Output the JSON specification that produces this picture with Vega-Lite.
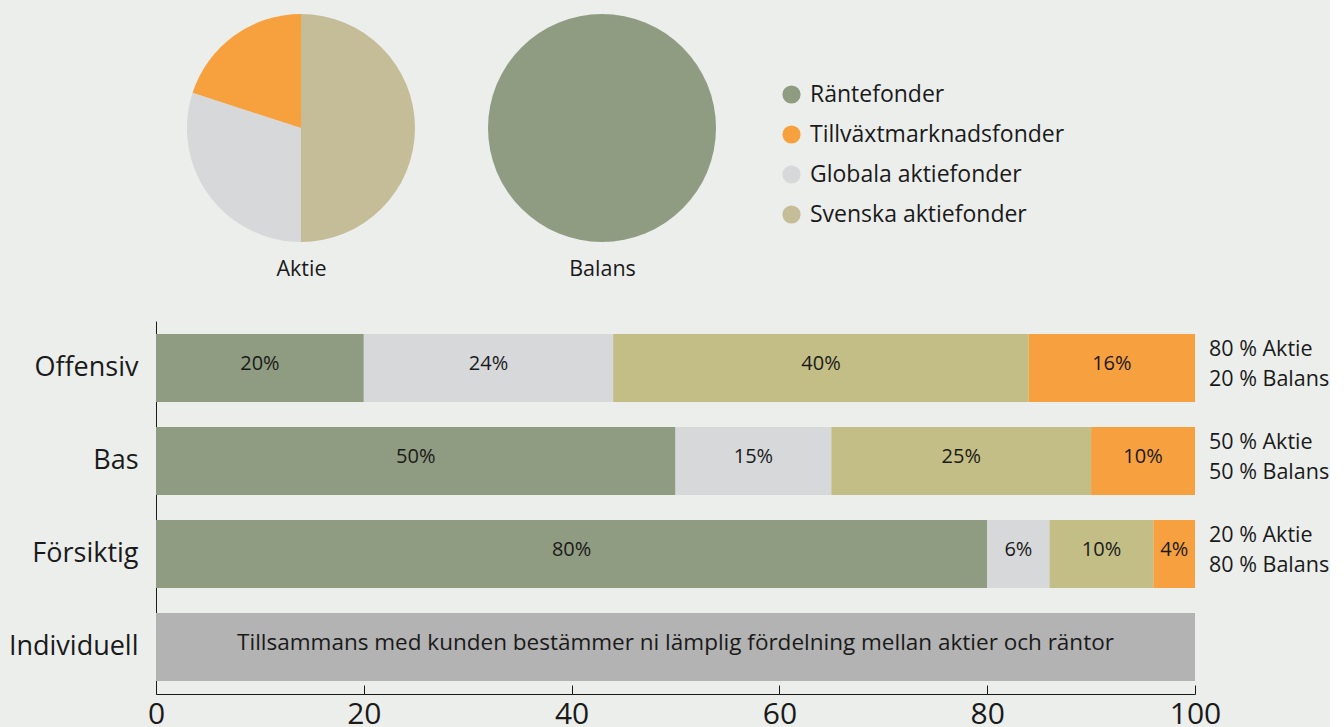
{
  "$schema": "https://vega.github.io/schema/vega-lite/v6.json",
  "background": "#eceeec",
  "padding": {"left": 8, "top": 13, "right": 0, "bottom": 0},
  "config": {
    "view": {"stroke": null},
    "font": "Open Sans",
    "concat": {"spacing": 41},
    "axis": {"labelColor": "#1a1a1a", "domainColor": "#1a1a1a", "tickColor": "#1a1a1a", "grid": false}
  },
  "datasets": {
    "pies": [
      {"pie": "Aktie", "fund": "Svenska aktiefonder", "share": 50, "ord": 1},
      {"pie": "Aktie", "fund": "Globala aktiefonder", "share": 30, "ord": 2},
      {"pie": "Aktie", "fund": "Tillväxtmarknadsfonder", "share": 20, "ord": 3},
      {"pie": "Balans", "fund": "Räntefonder", "share": 100, "ord": 1}
    ],
    "bars": [
      {"profil": "Offensiv", "fund": "Räntefonder", "value": 20, "ord": 1, "label": "20%"},
      {"profil": "Offensiv", "fund": "Globala aktiefonder", "value": 24, "ord": 2, "label": "24%"},
      {"profil": "Offensiv", "fund": "Svenska aktiefonder", "value": 40, "ord": 3, "label": "40%"},
      {"profil": "Offensiv", "fund": "Tillväxtmarknadsfonder", "value": 16, "ord": 4, "label": "16%"},
      {"profil": "Bas", "fund": "Räntefonder", "value": 50, "ord": 1, "label": "50%"},
      {"profil": "Bas", "fund": "Globala aktiefonder", "value": 15, "ord": 2, "label": "15%"},
      {"profil": "Bas", "fund": "Svenska aktiefonder", "value": 25, "ord": 3, "label": "25%"},
      {"profil": "Bas", "fund": "Tillväxtmarknadsfonder", "value": 10, "ord": 4, "label": "10%"},
      {"profil": "Försiktig", "fund": "Räntefonder", "value": 80, "ord": 1, "label": "80%"},
      {"profil": "Försiktig", "fund": "Globala aktiefonder", "value": 6, "ord": 2, "label": "6%"},
      {"profil": "Försiktig", "fund": "Svenska aktiefonder", "value": 10, "ord": 3, "label": "10%"},
      {"profil": "Försiktig", "fund": "Tillväxtmarknadsfonder", "value": 4, "ord": 4, "label": "4%"},
      {"profil": "Individuell", "fund": "Individuell", "value": 100, "ord": 1, "label": "Tillsammans med kunden bestämmer ni lämplig fördelning mellan aktier och räntor"}
    ],
    "notes": [
      {"profil": "Offensiv", "note": "80 % Aktie\n20 % Balans"},
      {"profil": "Bas", "note": "50 % Aktie\n50 % Balans"},
      {"profil": "Försiktig", "note": "20 % Aktie\n80 % Balans"}
    ]
  },
  "resolve": {"scale": {"color": "independent"}, "legend": {"color": "independent"}},
  "vconcat": [
    {
      "width": 591,
      "height": 230,
      "data": {"name": "pies"},
      "encoding": {
        "x": {
          "field": "pie", "type": "nominal",
          "scale": {"type": "point", "domain": ["Aktie", "Balans"], "padding": 0.4817},
          "axis": {"orient": "bottom", "domain": false, "ticks": false, "title": null, "labelFontSize": 21.5, "labelPadding": 15, "labelAngle": 0}
        },
        "theta": {"field": "share", "type": "quantitative", "stack": true},
        "order": {"field": "ord", "type": "quantitative"},
        "color": {
          "field": "fund", "type": "nominal",
          "scale": {
            "domain": ["Räntefonder", "Tillväxtmarknadsfonder", "Globala aktiefonder", "Svenska aktiefonder"],
            "range": ["#8f9c81", "#f7a13e", "#d7d8da", "#c5bd98"]
          },
          "legend": {
            "orient": "none", "legendX": 624, "legendY": 70, "title": null,
            "symbolType": "circle", "symbolSize": 330, "symbolStrokeWidth": 0,
            "labelFontSize": 23, "labelColor": "#1a1a1a", "rowPadding": 16, "labelOffset": 7, "labelLimit": 400
          }
        }
      },
      "layer": [
        {"transform": [{"filter": "datum.pie === 'Aktie'"}], "mark": {"type": "arc", "radius": 114}},
        {"transform": [{"filter": "datum.pie === 'Balans'"}], "mark": {"type": "arc", "radius": 114}}
      ]
    },
    {
      "width": 1039,
      "height": 373,
      "encoding": {
        "y": {
          "field": "profil", "type": "nominal",
          "sort": ["Offensiv", "Bas", "Försiktig", "Individuell"],
          "scale": {"domain": ["Offensiv", "Bas", "Försiktig", "Individuell"], "paddingInner": 0.27, "paddingOuter": 0.14},
          "axis": {"title": null, "ticks": false, "labelFontSize": 27, "labelPadding": 18}
        }
      },
      "layer": [
        {
          "data": {"name": "bars"},
          "transform": [{"stack": "value", "groupby": ["profil"], "sort": [{"field": "ord"}], "as": ["x0", "x1"]}],
          "mark": {"type": "bar"},
          "encoding": {
            "x": {
              "field": "x0", "type": "quantitative",
              "scale": {"domain": [0, 100], "nice": false},
              "axis": {"title": null, "values": [0, 20, 40, 60, 80, 100], "tickSize": -9, "labelFontSize": 30, "labelPadding": 14, "labelFlush": false}
            },
            "x2": {"field": "x1"},
            "color": {
              "field": "fund", "type": "nominal",
              "scale": {
                "domain": ["Räntefonder", "Globala aktiefonder", "Svenska aktiefonder", "Tillväxtmarknadsfonder", "Individuell"],
                "range": ["#8f9c81", "#d7d8da", "#c3be85", "#f6a03f", "#b3b3b3"]
              },
              "legend": null
            }
          }
        },
        {
          "data": {"name": "bars"},
          "transform": [
            {"filter": "datum.profil !== 'Individuell'"},
            {"stack": "value", "groupby": ["profil"], "sort": [{"field": "ord"}], "as": ["x0", "x1"]},
            {"calculate": "(datum.x0 + datum.x1) / 2", "as": "xmid"}
          ],
          "mark": {"type": "text", "fontSize": 20, "color": "#1a1a1a", "align": "center", "baseline": "middle", "dy": -4},
          "encoding": {
            "x": {"field": "xmid", "type": "quantitative"},
            "text": {"field": "label"}
          }
        },
        {
          "data": {"name": "bars"},
          "transform": [
            {"filter": "datum.profil === 'Individuell'"},
            {"stack": "value", "groupby": ["profil"], "sort": [{"field": "ord"}], "as": ["x0", "x1"]},
            {"calculate": "(datum.x0 + datum.x1) / 2", "as": "xmid"}
          ],
          "mark": {"type": "text", "fontSize": 22.5, "color": "#1a1a1a", "align": "center", "baseline": "middle", "dy": -4},
          "encoding": {
            "x": {"field": "xmid", "type": "quantitative"},
            "text": {"field": "label"}
          }
        },
        {
          "data": {"name": "notes"},
          "mark": {"type": "text", "fontSize": 21.5, "color": "#1a1a1a", "align": "left", "baseline": "middle", "dx": 14, "dy": -18, "lineBreak": "\n", "lineHeight": 30},
          "encoding": {
            "x": {"datum": 100, "type": "quantitative"},
            "text": {"field": "note"}
          }
        }
      ]
    }
  ]
}
